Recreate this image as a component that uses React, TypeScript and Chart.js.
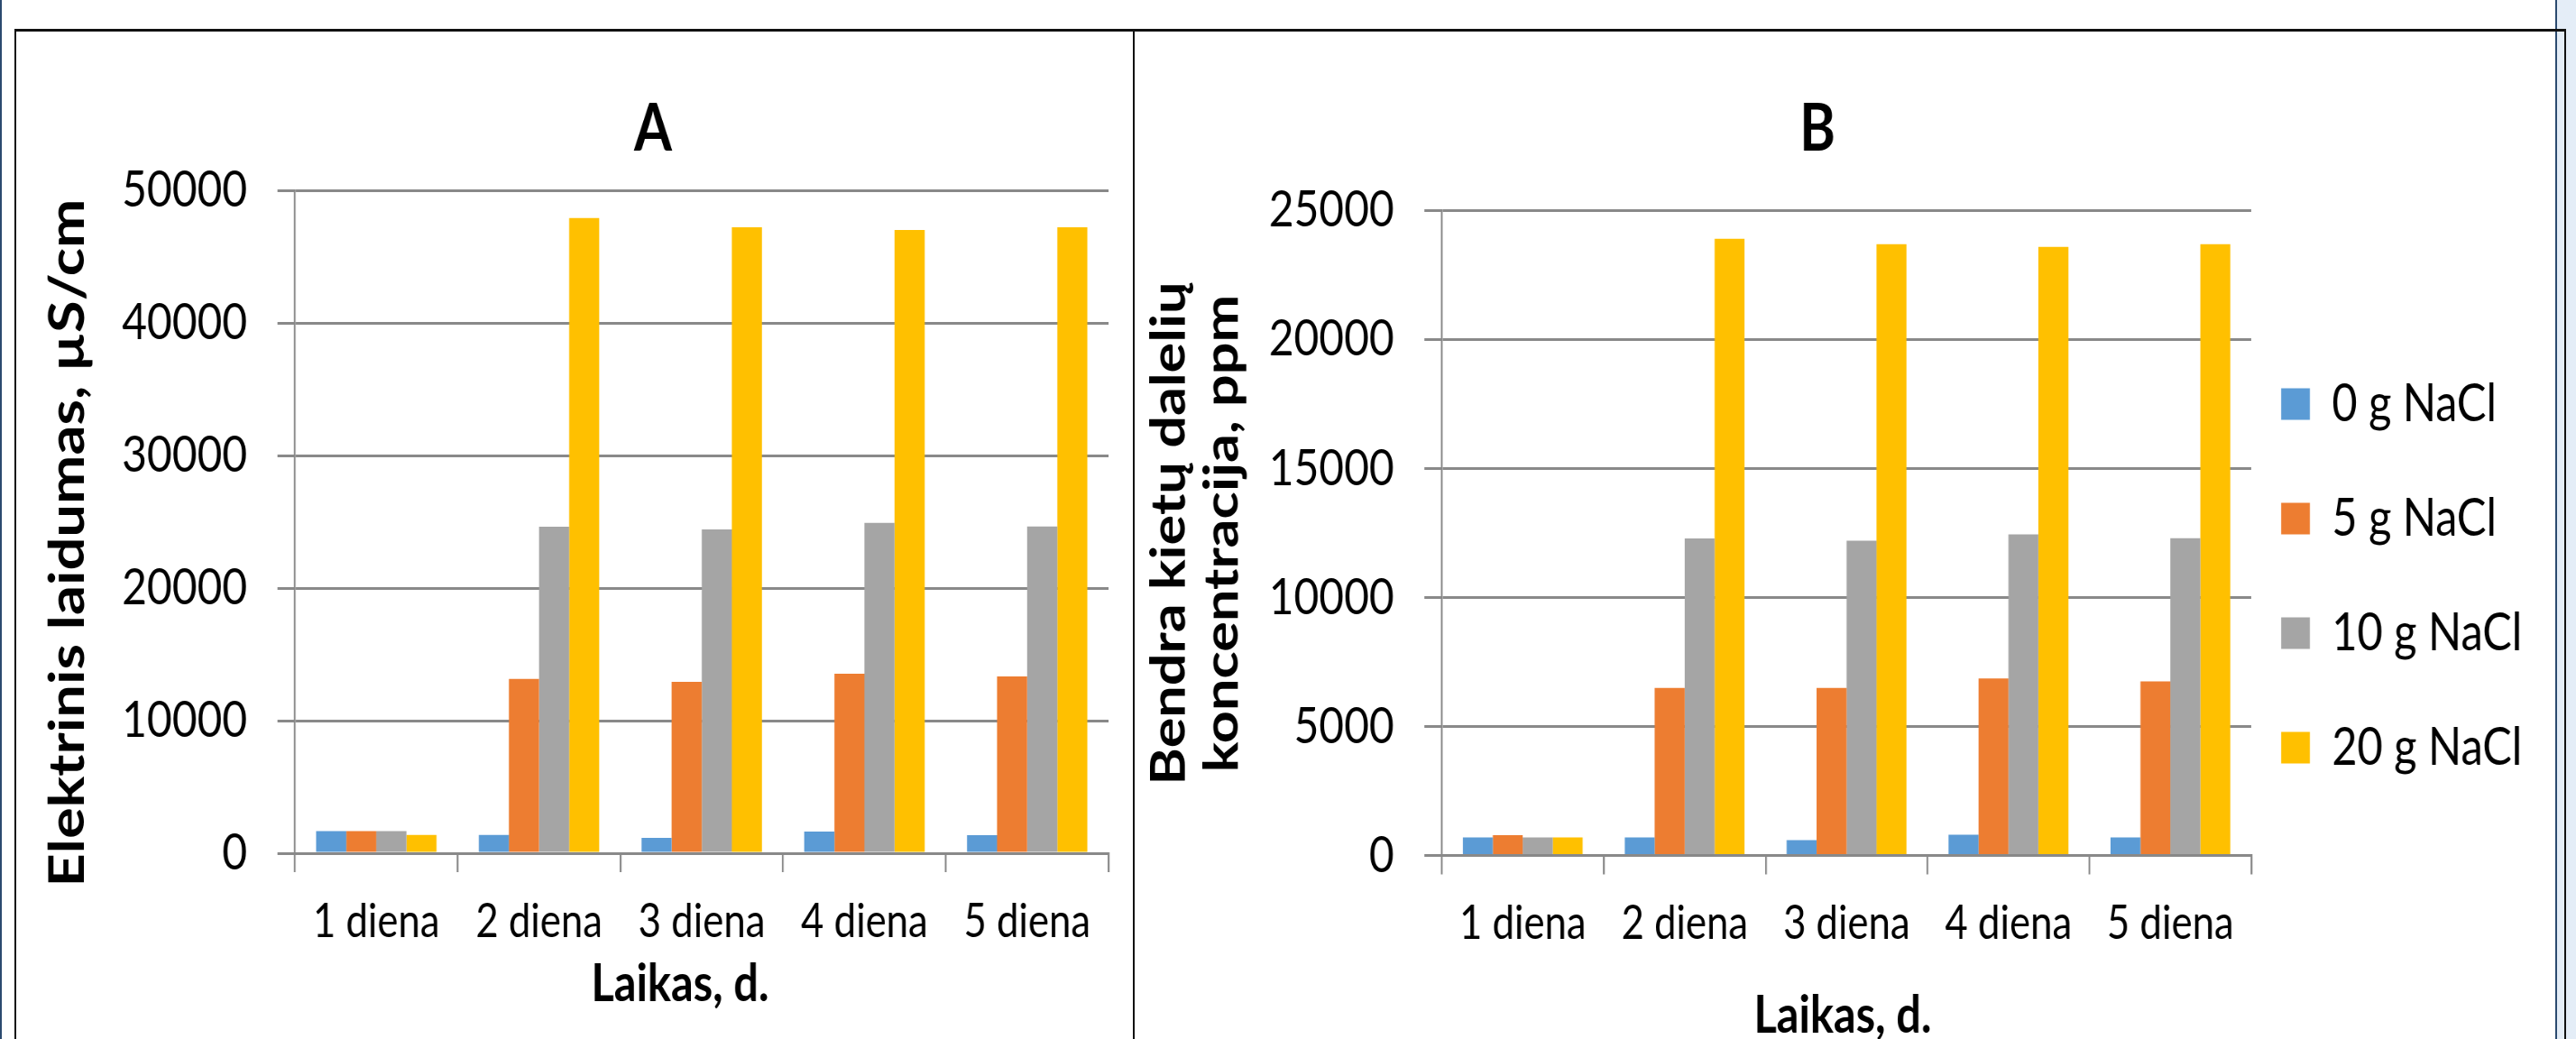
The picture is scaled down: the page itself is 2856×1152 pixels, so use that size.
import React, { useEffect, useRef } from 'react';
import { Chart, registerables } from 'chart.js';

Chart.register(...registerables);

// ---------- data ----------
const days = ['1 diena', '2 diena', '3 diena', '4 diena', '5 diena'];
const seriesLabels = ['0 g NaCl', '5 g NaCl', '10 g NaCl', '20 g NaCl'];
const seriesColors = ['#5b9bd5', '#ed7d31', '#a5a5a5', '#ffc000'];

// A: Elektrinis laidumas, µS/cm
const ecNaCl0 = [1660, 1370, 1160, 1640, 1360];
const ecNaCl5 = [1660, 13150, 12930, 13540, 13330];
const ecNaCl10 = [1660, 24630, 24430, 24910, 24640];
const ecNaCl20 = [1370, 47900, 47210, 47000, 47210];
const ecTickValues = [0, 10000, 20000, 30000, 40000, 50000];

// B: Bendra kietų dalelių koncentracija, ppm
const tdsNaCl0 = [700, 700, 590, 800, 700];
const tdsNaCl5 = [790, 6490, 6490, 6860, 6740];
const tdsNaCl10 = [700, 12280, 12190, 12440, 12290];
const tdsNaCl20 = [700, 23890, 23680, 23580, 23680];
const tdsTickValues = [0, 5000, 10000, 15000, 20000, 25000];

// ---------- styling ----------
const S = 0.84; // horizontal squeeze of the reference picture
const FONT = 'Lato, "Liberation Sans", Arial, sans-serif';
const GRID = '#898989';

type TextItem = { lines: string[]; x: number; y: number; size: number; rotate?: boolean; gap?: number };

function textPlugin(items: TextItem[]) {
  return {
    id: 'panelText',
    afterDraw(chart: any) {
      const ctx = chart.ctx as CanvasRenderingContext2D;
      items.forEach((it) => {
        ctx.save();
        ctx.fillStyle = '#000';
        ctx.font = `bold ${it.size}px ${FONT}`;
        ctx.textAlign = 'center';
        ctx.textBaseline = 'alphabetic';
        ctx.translate(it.x, it.y);
        if (it.rotate) ctx.rotate(-Math.PI / 2);
        it.lines.forEach((line, i) => ctx.fillText(line, 0, i * (it.gap || 0)));
        ctx.restore();
      });
    },
  };
}

type Panel = { px: number; py: number; pw: number; ph: number };

function makeDatasets(series: number[][]) {
  return series.map((d, i) => ({
    label: seriesLabels[i],
    data: d,
    backgroundColor: seriesColors[i],
    borderWidth: 0,
    categoryPercentage: 0.74,
    barPercentage: 1,
  }));
}

function baseScales(ticks: number[], yWidth: number, xHeight: number) {
  return {
    x: {
      grid: { drawOnChartArea: false, drawTicks: true, tickLength: 21, color: GRID, lineWidth: 2.4, offset: true },
      border: { display: true, color: GRID, width: 3 },
      ticks: { font: { family: FONT, size: 52 }, color: '#000', padding: 24, maxRotation: 0, autoSkip: false },
      afterFit: (s: any) => { s.height = xHeight; },
    },
    y: {
      min: ticks[0],
      max: ticks[ticks.length - 1],
      ticks: {
        stepSize: ticks[1] - ticks[0],
        font: { family: FONT, size: 57 },
        color: '#000',
        padding: 40,
        callback: (v: any) => String(v),
      },
      grid: { color: GRID, lineWidth: 3, tickLength: 23 },
      border: { display: true, color: GRID, width: 2.4 },
      afterFit: (s: any) => { s.width = yWidth; },
    },
  };
}

const LP: Panel = { px: 19, py: 36, pw: 1236, ph: 1116 };
const RP: Panel = { px: 1259, py: 36, pw: 1573, ph: 1116 };

function logicalWidth(p: Panel) { return Math.round(p.pw / S); }
function toLX(p: Panel, physX: number) { return ((physX - p.px) * logicalWidth(p)) / p.pw; }

function leftConfig(): any {
  const W = logicalWidth(LP);
  const areaLeft = toLX(LP, 327);
  const areaRight = toLX(LP, 1229);
  const areaTop = 211 - LP.py;
  const areaBottom = 946 - LP.py;
  return {
    type: 'bar',
    data: { labels: days, datasets: makeDatasets([ecNaCl0, ecNaCl5, ecNaCl10, ecNaCl20]) },
    options: {
      responsive: false,
      animation: false,
      devicePixelRatio: 1,
      layout: { autoPadding: false, padding: { top: areaTop, left: 0, right: W - areaRight, bottom: 0 } },
      plugins: { legend: { display: false }, title: { display: false }, tooltip: { enabled: false } },
      scales: baseScales(ecTickValues, areaLeft, LP.ph - areaBottom),
    },
    plugins: [
      textPlugin([
        { lines: ['A'], x: toLX(LP, 724), y: 167 - LP.py, size: 72 },
        { lines: ['Laikas, d.'], x: toLX(LP, 754), y: 1110 - LP.py, size: 58 },
        { lines: ['Elektrinis laidumas, µS/cm'], x: toLX(LP, 93), y: 602 - LP.py, size: 65, rotate: true },
      ]),
    ],
  };
}

function rightConfig(): any {
  const W = logicalWidth(RP);
  const areaLeft = toLX(RP, 1598.5);
  const areaRight = toLX(RP, 2496);
  const areaTop = 233 - RP.py;
  const areaBottom = 948.5 - RP.py;
  const legendW = W - areaRight;
  const legendPad = 69;
  const boxLeft = toLX(RP, 2529);
  const firstItemTop = 448 - RP.py - 29;
  return {
    type: 'bar',
    data: { labels: days, datasets: makeDatasets([tdsNaCl0, tdsNaCl5, tdsNaCl10, tdsNaCl20]) },
    options: {
      responsive: false,
      animation: false,
      devicePixelRatio: 1,
      layout: { autoPadding: false, padding: { top: areaTop, left: 0, right: 0, bottom: 0 } },
      plugins: {
        title: { display: false },
        tooltip: { enabled: false },
        legend: {
          display: true,
          position: 'right',
          align: 'start',
          labels: {
            boxWidth: 38,
            boxHeight: 35,
            padding: legendPad,
            color: '#000',
            font: { family: FONT, size: 58 },
          },
        },
      },
      scales: baseScales(tdsTickValues, areaLeft, RP.ph - areaBottom),
    },
    plugins: [
      {
        id: 'legendPlacement',
        beforeLayout(chart: any) {
          const lg = chart.legend;
          if (lg && !lg.__fixed) {
            const orig = lg.fit;
            lg.fit = function () { orig.call(this); this.width = legendW; };
            lg.__fixed = true;
          }
        },
        afterLayout(chart: any) {
          const lg = chart.legend;
          if (!lg) return;
          lg.left = boxLeft - legendPad;
          lg.right = lg.left + lg.width;
          lg.top = firstItemTop - legendPad;
          lg.bottom = RP.ph;
          lg.height = lg.bottom - lg.top;
        },
      },
      textPlugin([
        { lines: ['B'], x: toLX(RP, 2015), y: 167 - RP.py, size: 72 },
        { lines: ['Laikas, d.'], x: toLX(RP, 2043), y: 1145 - RP.py, size: 58 },
        {
          lines: ['Bendra kietų dalelių', 'koncentracija, ppm'],
          x: toLX(RP, 1314),
          y: 591.5 - RP.py,
          size: 63,
          rotate: true,
          gap: 58.6 / S,
        },
      ]),
    ],
  };
}

function ChartCanvas({ panel, make }: { panel: Panel; make: () => any }) {
  const ref = useRef<HTMLCanvasElement | null>(null);
  useEffect(() => {
    if (!ref.current) return;
    const chart = new Chart(ref.current, make());
    return () => chart.destroy();
  }, []);
  return (
    <canvas
      ref={ref}
      width={logicalWidth(panel)}
      height={panel.ph}
      style={{
        position: 'absolute',
        left: panel.px,
        top: panel.py,
        width: panel.pw + 'px',
        height: panel.ph + 'px',
      }}
    />
  );
}

const abs = (left: number, top: number, width: number, height: number, background: string): React.CSSProperties => ({
  position: 'absolute', left, top, width, height, background,
});

export default function App() {
  return (
    <div style={{ position: 'absolute', left: 0, top: 0, width: 2856, height: 1152, background: '#fff', overflow: 'hidden' }}>
      <div style={abs(0, 0, 2, 1152, '#2b4a6f')} />
      <div style={abs(2835, 0, 21, 1152, '#e4edf7')} />
      <div style={abs(2833, 0, 2, 1152, '#2b4a6f')} />
      <div style={abs(17, 32, 2828, 3, '#111')} />
      <div style={abs(16, 32, 2, 1120, '#111')} />
      <div style={abs(1256, 32, 2, 1120, '#111')} />
      <div style={abs(2843, 32, 2, 1120, '#111')} />
      <ChartCanvas panel={LP} make={leftConfig} />
      <ChartCanvas panel={RP} make={rightConfig} />
    </div>
  );
}
